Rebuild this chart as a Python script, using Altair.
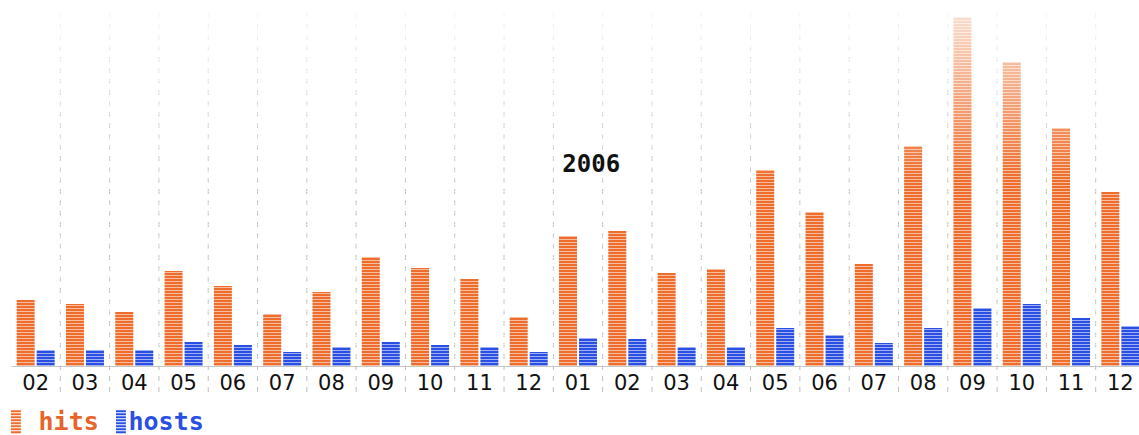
import altair as alt
import pandas as pd

# ---- data ----
months = ["02", "03", "04", "05", "06", "07", "08", "09", "10", "11", "12",
          "01", "02", "03", "04", "05", "06", "07", "08", "09", "10", "11", "12"]
years = [2005] * 11 + [2006] * 12
hits = [66, 62, 54, 95, 80, 52, 74, 109, 98, 87, 49,
        130, 135, 93, 97, 196, 154, 102, 220, 349, 304, 238, 174]
hosts = [16, 16, 16, 24, 21, 14, 19, 24, 21, 19, 14,
         28, 27, 19, 19, 38, 31, 23, 38, 58, 62, 48, 40]
series = ["hits", "hosts"]
colors = ["#EE6D2C", "#2A4FE3"]
label_colors = ["#E8642A", "#2A4FE3"]
year_label = ["2006"]
year_label_key = ["2006-01"]
year_label_level = [201]

keys = [f"{y}-{m}" for y, m in zip(years, months)]

rows = []
for k, m, h, o in zip(keys, months, hits, hosts):
    rows.append({"key": k, "month": m, "series": series[0], "value": h})
    rows.append({"key": k, "month": m, "series": series[1], "value": o})
df = pd.DataFrame(rows)

W_RANGE = 1134
H = 366

xscale = alt.Scale(domain=keys, range=[0, W_RANGE], paddingInner=0, paddingOuter=0)
xaxis = alt.Axis(title=None, ticks=False, grid=False, labelAngle=0,
                 labelExpr="substring(datum.label, 5)",
                 labelFont="DejaVu Sans", labelFontSize=21, labelColor="#111111",
                 labelPadding=6, domainColor="#c8c8c8")
yscale = alt.Scale(domain=[0, H], nice=False, zero=True)

# striped legend swatch path (style only), drawn at the left of its symbol box
stripes = []
for i in range(8):
    y0 = -1 + i * 0.26
    stripes.append(f"M0,{y0:.2f}H0.86V{y0 + 0.17:.2f}H0Z")
swatch = "".join(stripes)

color_expr = (f"datum.label == '{series[0]}' ? '{label_colors[0]}' : '{label_colors[1]}'")
# zero-width char keeps the following no-break space from being trimmed
label_expr = f"datum.label == '{series[0]}' ? '\u200b\u00a0' + datum.label : datum.label"

bars = alt.Chart(df).mark_bar().encode(
    x=alt.X("key:N", scale=xscale, axis=xaxis),
    xOffset=alt.XOffset("series:N", scale=alt.Scale(domain=series, paddingInner=0.1,
                                                    paddingOuter=0.2825)),
    y=alt.Y("value:Q", scale=yscale, axis=None),
    color=alt.Color("series:N", scale=alt.Scale(domain=series, range=colors),
                    legend=alt.Legend(title=None, orient="none", legendX=-12.5, legendY=409,
                                      direction="horizontal", symbolType=swatch,
                                      symbolSize=529, symbolStrokeWidth=0,
                                      symbolOpacity=1,
                                      labelFont="DejaVu Sans Mono", labelFontWeight="bold",
                                      labelFontSize=25, labelExpr=label_expr,
                                      labelColor=alt.ExprRef(color_expr),
                                      labelOffset=0, columnPadding=4, padding=0)),
)

grid_df = pd.DataFrame({"key": keys[1:]})
grid_rules = alt.Chart(grid_df).mark_rule(color="#bdbdbd", strokeDash=[5, 6], strokeWidth=1).encode(
    x=alt.X("key:N", scale=xscale, axis=xaxis, bandPosition=0),
    y=alt.value(13),
    y2=alt.value(395),
)

# horizontal light stripes across the bars (style)
stripe_df = pd.DataFrame({"level": [0.5 + 3 * k for k in range(H // 3)]})
stripe_rules = alt.Chart(stripe_df).mark_rule(color="white", opacity=0.55, strokeWidth=1).encode(
    x=alt.value(0), x2=alt.value(W_RANGE),
    y=alt.Y("level:Q", scale=yscale, axis=None),
)

fade = alt.LinearGradient(
    gradient="linear",
    stops=[alt.GradientStop(color="rgba(255,255,255,0.85)", offset=0),
           alt.GradientStop(color="rgba(255,255,255,0)", offset=1)],
    x1=0, x2=0, y1=0, y2=1,
)
overlay = alt.Chart(pd.DataFrame({"a": [0]})).mark_rect(fill=fade).encode(
    x=alt.value(0), x2=alt.value(W_RANGE), y=alt.value(0), y2=alt.value(180),
)

text_df = pd.DataFrame({"key": year_label_key, "label": year_label, "level": year_label_level})
year_text = alt.Chart(text_df).mark_text(
    align="left", baseline="middle", dx=9, font="DejaVu Sans Mono", fontWeight="bold",
    fontSize=24, color="#111111"
).encode(
    x=alt.X("key:N", scale=xscale, axis=xaxis, bandPosition=0),
    y=alt.Y("level:Q", scale=yscale, axis=None),
    text="label:N",
)

chart = alt.layer(grid_rules, bars, stripe_rules, overlay, year_text).properties(
    width=1128, height=H,
    autosize=alt.AutoSizeParams(type="none"),
    padding={"left": 11, "top": 0, "right": 0, "bottom": 69},
    background="white",
).configure_view(stroke=None)

chart.save("out.html", embed_options={"renderer": "svg", "actions": False})
